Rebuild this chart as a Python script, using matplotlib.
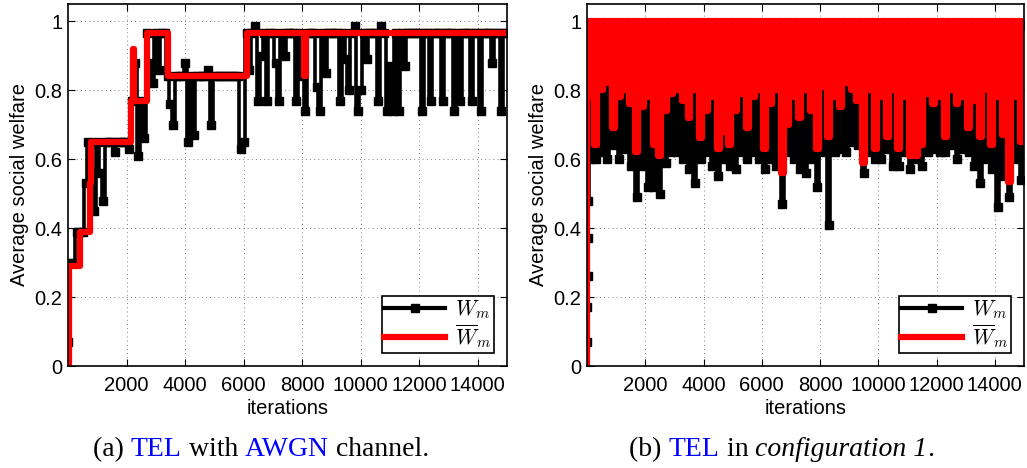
import numpy as np
import matplotlib
matplotlib.use('Agg')
import matplotlib.pyplot as plt
from matplotlib.lines import Line2D
from matplotlib.ticker import FuncFormatter

plt.rcParams['font.family'] = ['Liberation Sans', 'DejaVu Sans']
plt.rcParams['mathtext.fontset'] = 'cm'

# ---- (a) TEL with AWGN channel ----
# red: average welfare, step values
red_a_it = [50, 50, 400, 740, 790, 2160, 2230, 2260, 2690, 3400, 6100, 8060, 8120, 15000]
red_a_val = [0.0, 0.29, 0.39, 0.53, 0.65, 0.77, 0.92, 0.77, 0.965, 0.84, 0.965, 0.84, 0.965, 0.965]

# black: instantaneous welfare, every 100 iterations
black_a_it = np.arange(0, 15001, 100)
black_a_val = [
    0.07, 0.30, 0.30, 0.39, 0.39, 0.39, 0.53, 0.65, 0.56, 0.45,
    0.65, 0.56, 0.48, 0.65, 0.65, 0.65, 0.62, 0.65, 0.65, 0.65,
    0.65, 0.63, 0.77, 0.88, 0.61, 0.77, 0.66, 0.965, 0.88, 0.82,
    0.965, 0.86, 0.965, 0.965, 0.84, 0.76, 0.70, 0.84, 0.84, 0.84,
    0.88, 0.65, 0.84, 0.67, 0.84, 0.84, 0.84, 0.84, 0.86, 0.70,
    0.84, 0.84, 0.84, 0.84, 0.84, 0.84, 0.84, 0.84, 0.84, 0.63,
    0.65, 0.965, 0.86, 0.965, 0.985, 0.77, 0.90, 0.965, 0.77, 0.965,
    0.965, 0.88, 0.77, 0.965, 0.90, 0.965, 0.965, 0.965, 0.77, 0.965,
    0.84, 0.74, 0.965, 0.965, 0.965, 0.81, 0.74, 0.965, 0.85, 0.965,
    0.965, 0.965, 0.965, 0.77, 0.965, 0.89, 0.80, 0.965, 0.985, 0.74,
    0.80, 0.965, 0.89, 0.965, 0.965, 0.965, 0.77, 0.985, 0.965, 0.74,
    0.87, 0.74, 0.965, 0.74, 0.965, 0.87, 0.965, 0.965, 0.965, 0.965,
    0.965, 0.74, 0.965, 0.965, 0.77, 0.965, 0.965, 0.965, 0.77, 0.965,
    0.965, 0.965, 0.74, 0.965, 0.77, 0.965, 0.965, 0.965, 0.77, 0.965,
    0.965, 0.74, 0.965, 0.965, 0.965, 0.88, 0.965, 0.965, 0.74, 0.965, 0.965,
]

# ---- (b) TEL in configuration 1 ----
grid_b = np.arange(0, 15001, 100)
red_b_top = 1.0
red_b_low = [
    0.78, 0.64, 0.80, 0.82, 0.69, 0.78, 0.80, 0.76, 0.62, 0.75,
    0.78, 0.64, 0.61, 0.74, 0.79, 0.80, 0.77, 0.72, 0.80, 0.66,
    0.74, 0.78, 0.63, 0.68, 0.64, 0.74, 0.79, 0.69, 0.78, 0.80,
    0.63, 0.76, 0.80, 0.56, 0.70, 0.78, 0.72, 0.80, 0.74, 0.63,
    0.81, 0.665, 0.78, 0.75, 0.82, 0.80, 0.77, 0.59, 0.80, 0.63,
    0.78, 0.665, 0.80, 0.63, 0.78, 0.61, 0.61, 0.64, 0.79, 0.76,
    0.78, 0.665, 0.80, 0.76, 0.78, 0.69, 0.77, 0.665, 0.80, 0.64,
    0.78, 0.67, 0.535, 0.78, 0.65,
]
black_b_start_it = [0, 10, 20, 30, 40]
black_b_start_val = [0.07, 0.17, 0.26, 0.37, 0.48]
black_b_top = 0.99
black_b_low = [
    0.60, 0.60, 0.62, 0.60, 0.64, 0.60, 0.63, 0.58, 0.49, 0.58,
    0.52, 0.52, 0.50, 0.59, 0.62, 0.62, 0.60, 0.57, 0.53, 0.60,
    0.62, 0.58, 0.55, 0.60, 0.58, 0.57, 0.62, 0.60, 0.62, 0.60,
    0.57, 0.60, 0.58, 0.47, 0.62, 0.60, 0.57, 0.56, 0.60, 0.52,
    0.62, 0.41, 0.62, 0.63, 0.62, 0.65, 0.64, 0.56, 0.62, 0.60,
    0.60, 0.63, 0.58, 0.58, 0.62, 0.57, 0.60, 0.58, 0.62, 0.63,
    0.62, 0.62, 0.64, 0.60, 0.63, 0.62, 0.58, 0.53, 0.60, 0.57,
    0.46, 0.55, 0.49, 0.60, 0.54,
]

red_b_val = np.empty(len(grid_b))
red_b_val[0::2] = red_b_top
red_b_val[1::2] = red_b_low
red_b_it = np.concatenate([[0], grid_b])
red_b_val = np.concatenate([[0.0], red_b_val])

black_b_val = np.empty(len(grid_b))
black_b_val[0::2] = black_b_top
black_b_val[1::2] = black_b_low
black_b_it = np.concatenate([black_b_start_it, grid_b[1:]])
black_b_val = np.concatenate([black_b_start_val, black_b_val[1:]])

xticks = [2000, 4000, 6000, 8000, 10000, 12000, 14000]
yticks = [0, 0.2, 0.4, 0.6, 0.8, 1.0]

W, H = 1027, 468
fig = plt.figure(figsize=(W / 100, H / 100), dpi=100)
ax_a = fig.add_axes([68 / W, 1 - 366 / H, 439 / W, 362 / H])
ax_b = fig.add_axes([587 / W, 1 - 366 / H, 437 / W, 362 / H])

black_style = dict(color='black', lw=2.6, marker='s', ms=6, mew=1, drawstyle='steps-mid')
ax_a.plot(black_a_it, black_a_val, **black_style)
ax_a.plot(red_a_it, red_a_val, color='red', lw=4.5, drawstyle='steps-post')

ax_b.plot(black_b_it, black_b_val, **black_style)
ax_b.plot(red_b_it, red_b_val, color='red', lw=4.5, drawstyle='steps-mid')

fmt = FuncFormatter(lambda v, p: ('%g' % v))
for ax in (ax_a, ax_b):
    ax.set_xlim(0, 15000)
    ax.set_ylim(0, 1.05)
    ax.set_xticks(xticks)
    ax.set_yticks(yticks)
    ax.yaxis.set_major_formatter(fmt)
    ax.tick_params(direction='in', top=True, right=True, labelsize=14.5, length=5)
    ax.tick_params(axis='x', pad=7)
    ax.tick_params(axis='y', pad=4)
    ax.grid(True, color='0.35', linestyle=(0, (1, 4)), linewidth=0.6)
    ax.set_xlabel('iterations', fontsize=14.5, labelpad=3)
    ax.set_ylabel('Average social welfare', fontsize=14.5, labelpad=4)
    for s in ax.spines.values():
        s.set_linewidth(1.2)
    handles = [Line2D([], [], color='black', lw=3, marker='s', ms=6),
               Line2D([], [], color='red', lw=4.5)]
    leg = ax.legend(handles, [r'$W_m$', r'$\overline{W}_m$'], loc='lower right',
                    fontsize=15.5, fancybox=False, edgecolor='black', framealpha=1,
                    handlelength=2.8, labelspacing=0.05, borderpad=0.12,
                    borderaxespad=0.6, handletextpad=0.5, numpoints=1)
    leg.get_frame().set_linewidth(1.2)


def caption(xc, y, parts):
    r = fig.canvas.get_renderer()
    texts = [fig.text(0, y, s, color=c, style=st, fontsize=20,
                      family='Liberation Serif', va='baseline') for s, c, st in parts]
    widths = [t.get_window_extent(r).width for t in texts]
    x = xc - sum(widths) / 2
    for t, w in zip(texts, widths):
        t.set_x(x / W)
        x += w


blue = '#0000ff'
caption(261, 1 - 456 / H, [('(a) ', 'black', 'normal'), ('TEL', blue, 'normal'),
                           (' with ', 'black', 'normal'), ('AWGN', blue, 'normal'),
                           (' channel.', 'black', 'normal')])
caption(782, 1 - 456 / H, [('(b) ', 'black', 'normal'), ('TEL', blue, 'normal'),
                           (' in ', 'black', 'normal'), ('configuration 1', 'black', 'italic'),
                           ('.', 'black', 'normal')])

fig.savefig('out.png', dpi=100)
